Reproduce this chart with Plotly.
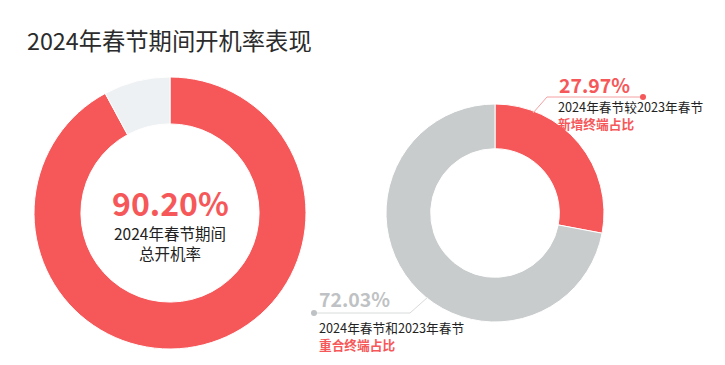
import plotly.graph_objects as go

OFF = 8  # page body margin
W, H = 725 - OFF, 365 - OFF
FONT = "Noto Sans CJK SC"
RED = "#f6585a"
LIGHT = "#eef1f3"
GRAY = "#c9cccd"

title = "2024年春节期间开机率表现"
# left ring: shares as drawn in the picture; label as printed
left_labels = ["开机", "未开机"]
left_values = [92.1, 7.9]
left_text = "90.20%"
right_labels = ["新增终端", "重合终端"]
right_values = [27.97, 72.03]

def px(x):
    return (x - OFF) / W

def py(y):
    return 1 - (y - OFF) / H

fig = go.Figure()
fig.add_trace(go.Pie(
    labels=left_labels, values=left_values, hole=0.655, sort=False,
    direction="clockwise", rotation=0, textinfo="none", hoverinfo="label+value",
    marker=dict(colors=[RED, LIGHT], line=dict(color="white", width=1)),
    domain=dict(x=[px(34), px(306)], y=[py(349), py(77)]), showlegend=False,
))
fig.add_trace(go.Pie(
    labels=right_labels, values=right_values, hole=0.59, sort=False,
    direction="clockwise", rotation=0, textinfo="none", hoverinfo="label+value",
    marker=dict(colors=[RED, GRAY], line=dict(color="white", width=1)),
    domain=dict(x=[px(386), px(604)], y=[py(322), py(104)]), showlegend=False,
))

ann = []
def text(x, y, s, size, color, bold=False, xanchor="left"):
    ann.append(dict(x=px(x), y=py(y), xref="paper", yref="paper", text=(f"<b>{s}</b>" if bold else s),
                    showarrow=False, xanchor=xanchor, yanchor="middle", borderpad=0,
                    align=xanchor if xanchor != "center" else "center",
                    font=dict(family=FONT, size=size, color=color)))

text(26, 40, title, 23.3, "#2b2b2b")
text(170, 202, left_text, 32, RED, bold=True, xanchor="center")
text(170, 243, "2024年春节期间<br>总开机率", 15.5, "#222222", xanchor="center")

text(558, 84, f"{right_values[0]:.2f}%", 19.5, RED, bold=True)
text(557, 115, f"2024年春节较2023年春节<br><b><span style='color:{RED}'>新增终端占比</span></b>", 12.7, "#222222")

text(318, 298, f"{right_values[1]:.2f}%", 19.5, "#bfc2c4", bold=True)
text(318, 336, f"2024年春节和2023年春节<br><b><span style='color:{RED}'>重合终端占比</span></b>", 12.7, "#222222")

shapes = [
    dict(type="line", xref="paper", yref="paper", x0=px(533), y0=py(113), x1=px(547), y1=py(97),
         line=dict(color="#f4a0a2", width=1)),
    dict(type="line", xref="paper", yref="paper", x0=px(547), y0=py(97), x1=px(643), y1=py(97),
         line=dict(color="#f4a0a2", width=1)),
    dict(type="circle", xref="paper", yref="paper", x0=px(640), y0=py(94), x1=px(646), y1=py(100),
         fillcolor=RED, line=dict(width=0)),
    dict(type="line", xref="paper", yref="paper", x0=px(314), y0=py(313), x1=px(410), y1=py(313),
         line=dict(color="#d8dadb", width=1)),
    dict(type="line", xref="paper", yref="paper", x0=px(410), y0=py(313), x1=px(428), y1=py(297),
         line=dict(color="#d8dadb", width=1)),
    dict(type="circle", xref="paper", yref="paper", x0=px(311), y0=py(310), x1=px(317), y1=py(316),
         fillcolor="#bfc2c4", line=dict(width=0)),
]

fig.update_layout(
    width=W, height=H, margin=dict(l=0, r=0, t=0, b=0),
    paper_bgcolor="white", plot_bgcolor="white",
    annotations=ann, shapes=shapes,
    font=dict(family=FONT),
)
fig.write_html("out.html")
